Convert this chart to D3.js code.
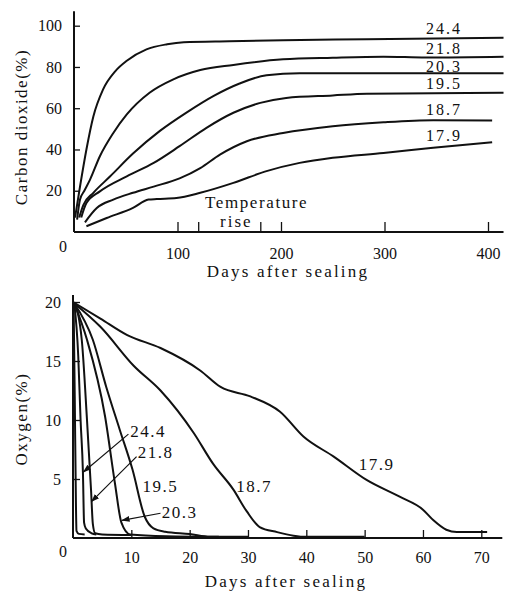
<!DOCTYPE html>
<html>
<head>
<meta charset="utf-8">
<script src="https://cdn.jsdelivr.net/npm/d3@7"></script>
<style>
  body { margin: 0; background: #fff; }
</style>
</head>
<body>
<script>
// carbon dioxide (%) vs days after sealing, one series per temperature
var co2Labels = ["24.4", "21.8", "20.3", "19.5", "18.7", "17.9"];
var co2_244 = [[1,7],[5.8,22],[12,40],[18.7,56],[28,69],[40,78],[51,83],[70,88.5],[90,91],[106,92],[150,92.5],[202,93],[283,93.4],[415,94.2]];
var co2_218 = [[3,6],[5.8,15.7],[10,20],[15.5,25.4],[25,36.7],[38,48],[51,57],[73,67.5],[96,74],[122,78.5],[154,81],[202,83.7],[250,84.5],[299,85],[340,84.6],[415,85]];
var co2_203 = [[5,7],[9,13],[18.7,19],[35,27],[57,38],[83,49],[109,58],[135,66],[160,72],[186,76],[218,77],[300,77],[415,77]];
var co2_195 = [[7,7],[12,14],[25,19.7],[51,27],[77,33.5],[102,41.6],[128,50.5],[154,57.8],[180,62.6],[205,65],[250,66.2],[283,67],[415,67.5]];
var co2_187 = [[10.6,4.7],[22,11.6],[38,15.7],[57,19],[77,22],[102,26],[122,31],[141,37.5],[167,44],[202,48],[250,51.3],[299,53.2],[347,54.2],[404,54]];
var co2_179 = [[12,2.8],[31.6,6.8],[57,11.7],[72,15.7],[80,16],[99,16.5],[122,19],[154,23.8],[186,29.5],[218,33.5],[250,36],[299,38.3],[347,40.8],[404,43.5]];
var co2Series = [co2_244, co2_218, co2_203, co2_195, co2_187, co2_179];
var co2LabelY = [96, 86.5, 77.7, 69.5, 56.5, 44];   // value where each label sits
var co2YTicks = [20, 40, 60, 80, 100];
var co2XTicks = [100, 200, 300, 400];
var riseTicks = [120, 180];

// oxygen (%) vs days after sealing
var o2_x   = [[0.1,20],[0.3,12],[0.5,3],[0.6,0.6],[1,0.35],[2,0.3]];  // unlabelled
var o2_244 = [[0.2,20],[0.9,15.4],[1.3,10],[1.7,5.6],[1.9,1.3],[2.2,0.8],[3.2,0.4],[4,0.3]];
var o2_218 = [[0.2,20],[1.5,16.8],[2.4,10],[3.1,4],[3.4,1.2],[3.8,0.4],[5,0.3],[10,0.25]];
var o2_203 = [[0.2,19.9],[2.4,16.8],[5.5,10.3],[7.2,4.6],[8.3,1.3],[9.8,0.3],[16,0.15],[25,0.1]];
var o2_195 = [[0.2,19.9],[3.4,16.8],[5.7,12.8],[8,9.2],[10.2,5.8],[12.3,1.8],[13.8,0.82],[15.8,0.53],[20,0.34],[23.5,0.11],[30,0.1]];
var o2_187 = [[0.2,19.9],[4.7,17.9],[10.4,14.6],[15,12.5],[20.7,8.9],[24,6.3],[27.5,4.1],[29.8,2.25],[32,0.93],[35,0.5],[37.8,0.2],[40,0.1],[50,0.1]];
var o2_179 = [[0,20],[4.7,18.6],[9.3,17.2],[15,16.1],[21.8,14.2],[25.3,12.8],[30.4,12],[35.5,10.7],[39.5,8.6],[44.7,6.9],[50.4,4.9],[56,3.5],[60,2.4],[61.8,1.5],[64,0.7],[65.8,0.5],[71,0.5]];
var o2Series = [o2_x, o2_244, o2_218, o2_203, o2_195, o2_187, o2_179];
// label text, label position (days, %), arrow start / target
var o2Labels = ["24.4", "21.8", "19.5", "20.3", "18.7", "17.9"];
var o2LabelPos = [[9.8,8.6],[11.1,6.8],[11.9,3.9],[15.2,1.7],[28,3.9],[49,5.8]];
var o2ArrowFrom = [[9.5,8.8],[10.9,6.9],null,[15,2.1],null,null];
var o2ArrowTo = [[1.8,5.6],[3.2,3.1],null,[8.4,1.5],null,null];
var o2YTicks = [5, 10, 15, 20];
var o2XTicks = [10, 20, 30, 40, 50, 60, 70];

var FONT = "'Liberation Serif', 'Times New Roman', Tinos, 'DejaVu Serif', serif";

var svg = d3.select("body").append("svg")
  .attr("width", 505).attr("height", 591)
  .style("font-family", FONT);

svg.append("defs").append("marker")
  .attr("id", "arr").attr("viewBox", "0 0 10 10")
  .attr("refX", 9).attr("refY", 5)
  .attr("markerWidth", 7).attr("markerHeight", 7)
  .attr("orient", "auto")
  .append("path").attr("d", "M0,1.5 L10,5 L0,8.5 Z").attr("fill", "#111");

function styleAxis(g) {
  g.attr("font-family", null);
  g.select(".domain").remove();
  g.selectAll(".tick line").attr("stroke", "#111").attr("stroke-width", 1.3);
  g.selectAll(".tick text").style("font-size", "16px").style("font-family", FONT).attr("fill", "#111");
}

function label(g, x, y, s, size, spacing) {
  return g.append("text").attr("x", x).attr("y", y)
    .style("font-family", FONT).style("font-size", size + "px")
    .style("letter-spacing", spacing + "px").attr("fill", "#111").text(s);
}

// ---------- top chart ----------
var x1 = d3.scaleLinear().domain([0, 400]).range([74, 488]);
var y1 = d3.scaleLinear().domain([0, 100]).range([232, 25.7]);
var gTop = svg.append("g");

gTop.append("line").attr("x1", x1(0)).attr("x2", x1(0))
  .attr("y1", y1(0)).attr("y2", y1(107))
  .attr("stroke", "#111").attr("stroke-width", 2);
gTop.append("line").attr("x1", x1(0)).attr("x2", x1(415))
  .attr("y1", y1(0)).attr("y2", y1(0))
  .attr("stroke", "#111").attr("stroke-width", 2);

gTop.append("g").attr("transform", "translate(" + x1(0) + ",0)")
  .call(d3.axisLeft(y1).tickValues(co2YTicks).tickSizeInner(-6).tickSizeOuter(0).tickPadding(12))
  .call(styleAxis);
gTop.append("g").attr("transform", "translate(0," + y1(0) + ")")
  .call(d3.axisBottom(x1).tickValues(co2XTicks.concat(riseTicks)).tickSizeInner(-10).tickSizeOuter(0).tickPadding(16)
    .tickFormat(function(d) { return riseTicks.indexOf(d) >= 0 ? "" : d; }))
  .call(styleAxis);
label(gTop, 63, 251.5, "0", 16, 0).attr("text-anchor", "middle");

var line1 = d3.line().x(function(d) { return x1(d[0]); }).y(function(d) { return y1(d[1]); })
  .curve(d3.curveMonotoneX);
gTop.selectAll(".co2").data(co2Series).enter().append("path")
  .attr("class", "co2").attr("d", line1)
  .attr("fill", "none").attr("stroke", "#111").attr("stroke-width", 2);

co2Labels.forEach(function(d, i) {
  label(gTop, 426, y1(co2LabelY[i]), d, 16, 2);
});

label(gTop, 205, 208, "Temperature", 17, 1.6);
label(gTop, 220, 227, "rise", 17, 2);
label(gTop, 288, 277, "Days after sealing", 17, 2.2).attr("text-anchor", "middle");
label(gTop, 0, 0, "Carbon dioxide(%)", 17, 1.5)
  .attr("transform", "translate(27,127) rotate(-90)").attr("text-anchor", "middle");

// ---------- bottom chart ----------
var x2 = d3.scaleLinear().domain([0, 70]).range([73, 481.3]);
var y2 = d3.scaleLinear().domain([0, 20]).range([538, 302]);
var gBot = svg.append("g");

gBot.append("line").attr("x1", x2(0)).attr("x2", x2(0))
  .attr("y1", y2(0)).attr("y2", y2(20.6))
  .attr("stroke", "#111").attr("stroke-width", 2);
gBot.append("line").attr("x1", x2(0)).attr("x2", x2(73.6))
  .attr("y1", y2(0)).attr("y2", y2(0))
  .attr("stroke", "#111").attr("stroke-width", 2);

gBot.append("g").attr("transform", "translate(" + x2(0) + ",0)")
  .call(d3.axisLeft(y2).tickValues(o2YTicks).tickSizeInner(-7).tickSizeOuter(0).tickPadding(12))
  .call(styleAxis);
gBot.append("g").attr("transform", "translate(0," + y2(0) + ")")
  .call(d3.axisBottom(x2).tickValues(o2XTicks).tickSizeInner(-8).tickSizeOuter(0).tickPadding(14))
  .call(styleAxis);
label(gBot, 63, 557, "0", 16, 0).attr("text-anchor", "middle");

var line2 = d3.line().x(function(d) { return x2(d[0]); }).y(function(d) { return y2(d[1]); })
  .curve(d3.curveMonotoneX);
gBot.selectAll(".o2").data(o2Series).enter().append("path")
  .attr("class", "o2").attr("d", line2)
  .attr("fill", "none").attr("stroke", "#111").attr("stroke-width", 2);

o2Labels.forEach(function(d, i) {
  label(gBot, x2(o2LabelPos[i][0]), y2(o2LabelPos[i][1]), d, 17, 1.5);
  if (!o2ArrowFrom[i]) return;
  gBot.append("line")
    .attr("x1", x2(o2ArrowFrom[i][0])).attr("y1", y2(o2ArrowFrom[i][1]))
    .attr("x2", x2(o2ArrowTo[i][0])).attr("y2", y2(o2ArrowTo[i][1]))
    .attr("stroke", "#111").attr("stroke-width", 1.2)
    .attr("marker-end", "url(#arr)");
});

label(gBot, 286, 587, "Days after sealing", 17, 2.2).attr("text-anchor", "middle");
label(gBot, 0, 0, "Oxygen(%)", 17, 1.5)
  .attr("transform", "translate(27,419) rotate(-90)").attr("text-anchor", "middle");
</script>
</body>
</html>
